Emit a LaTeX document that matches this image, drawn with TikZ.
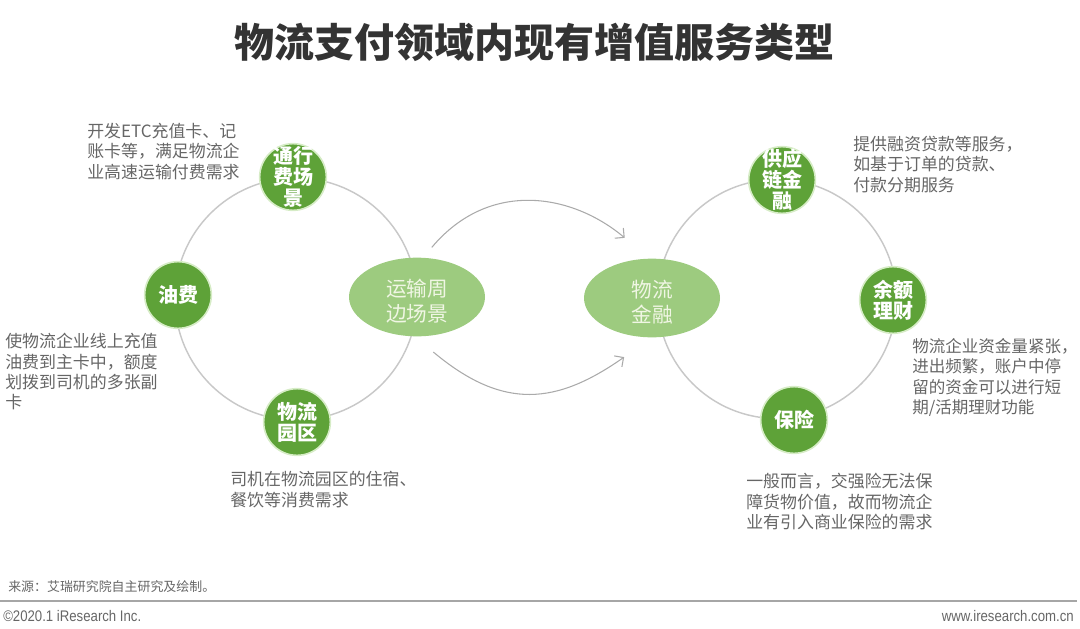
\documentclass[tikz,border=0pt]{standalone}
\usepackage{fontspec}
\setmainfont{Noto Sans CJK SC}
\newfontfamily\narrowfont{Liberation Sans}[FakeStretch=0.86]
\usetikzlibrary{arrows.meta,shapes.geometric}
\definecolor{dg}{RGB}{94,162,56}
\definecolor{lg}{RGB}{157,203,127}
\definecolor{halo}{RGB}{214,236,198}
\definecolor{tt}{RGB}{51,51,51}
\definecolor{tg}{RGB}{102,102,102}
\definecolor{rg}{RGB}{200,200,200}
\definecolor{ag}{RGB}{170,170,170}
\definecolor{pale}{RGB}{240,246,228}
\tikzset{svc/.style={circle,fill=dg,draw=halo,line width=1.2pt,minimum size=50pt,inner sep=0pt,
  label={[svctxt]center:#1}},
 svctxt/.style={align=center,text=white,font=\fontsize{15}{15.8}\selectfont\bfseries,inner sep=0pt},
 hub/.style={ellipse,fill=lg,minimum width=102pt,minimum height=59pt,inner sep=0pt,
  label={[hubtxt]center:#1}},
 hubtxt/.style={align=center,text=pale,font=\fontsize{15.5}{18.5}\selectfont,inner sep=0pt,yshift=-3pt},
 note/.style={anchor=north west,align=left,inner sep=0pt,text=tg,font=\fontsize{12.7}{15.3}\selectfont},
 ring/.style={draw=rg,line width=1.1pt},
 arr/.style={draw=ag,line width=.8pt,-{Straight Barb[length=5pt,width=10pt]}},
 foot/.style={inner sep=0pt,text=tg}}
\begin{document}
\begin{tikzpicture}[x=.75pt,y=-.75pt]
\useasboundingbox (0,0) rectangle (1080,628);
\node[font=\fontsize{30}{32}\selectfont\bfseries,text=tt] (title) at (534,42) {物流支付领域内现有增值服务类型};
% two rings
\coordinate (lc) at (296,299);\coordinate (rc) at (777,299);
\draw[ring] (lc) circle[radius=121];\draw[ring] (rc) circle[radius=119.5];
% scenes
\node[svc={通行\\费场\\景}] (toll) at (293,177) {};
\node[svc=油费] (oil) at (178,295) {};
\node[svc={物流\\园区}] (park) at (297,422) {};
\node[hub={运输周\\边场景}] (trans) at (417,297) {};
% finance
\node[hub={物流\\金融}] (fin) at (652,298) {};
\node[svc={供应\\链金\\融}] (scf) at (782,180) {};
\node[svc={余额\\理财}] (wealth) at (893,300) {};
\node[svc=保险] (ins) at (794,420) {};
\draw[arr,shorten <=10pt,shorten >=24pt] (trans.81) to[out=50,in=140,looseness=1.15] (fin.94);
\draw[arr,shorten <=18pt,shorten >=25.5pt] (trans.267) to[out=-40,in=215,looseness=1.25] (fin.270);
% notes
\node[note] (tolln) at (87,123) {开发ETC充值卡、记\\账卡等，满足物流企\\业高速运输付费需求};
\node[note] (oiln) at (5,333) {使物流企业线上充值\\油费到主卡中，额度\\划拨到司机的多张副\\卡};
\node[note] (parkn) at (230,471) {司机在物流园区的住宿、\\餐饮等消费需求};
\node[note] (scfn) at (853,136) {提供融资贷款等服务，\\如基于订单的贷款、\\付款分期服务};
\node[note,font=\fontsize{12.4}{15.3}\selectfont] (wealthn) at (912,338) {物流企业资金量紧张，\\进出频繁，账户中停\\留的资金可以进行短\\期/活期理财功能};
\node[note] (insn) at (746,473) {一般而言，交强险无法保\\障货物价值，故而物流企\\业有引入商业保险的需求};
% footer
\node[foot,anchor=west,font=\fontsize{9.7}{11}\selectfont] (src) at (8,587) {来源：艾瑞研究院自主研究及绘制。};
\draw[draw=gray!70,line width=1.5pt] (0,601) -- (1077,601);
\node[foot,anchor=west,font=\narrowfont\fontsize{11.5}{12}\selectfont] (cr) at (3,616) {©2020.1 iResearch Inc.};
\node[foot,anchor=east,font=\narrowfont\fontsize{11.5}{12}\selectfont] (web) at (1074,616) {www.iresearch.com.cn};
\end{tikzpicture}
\end{document}
